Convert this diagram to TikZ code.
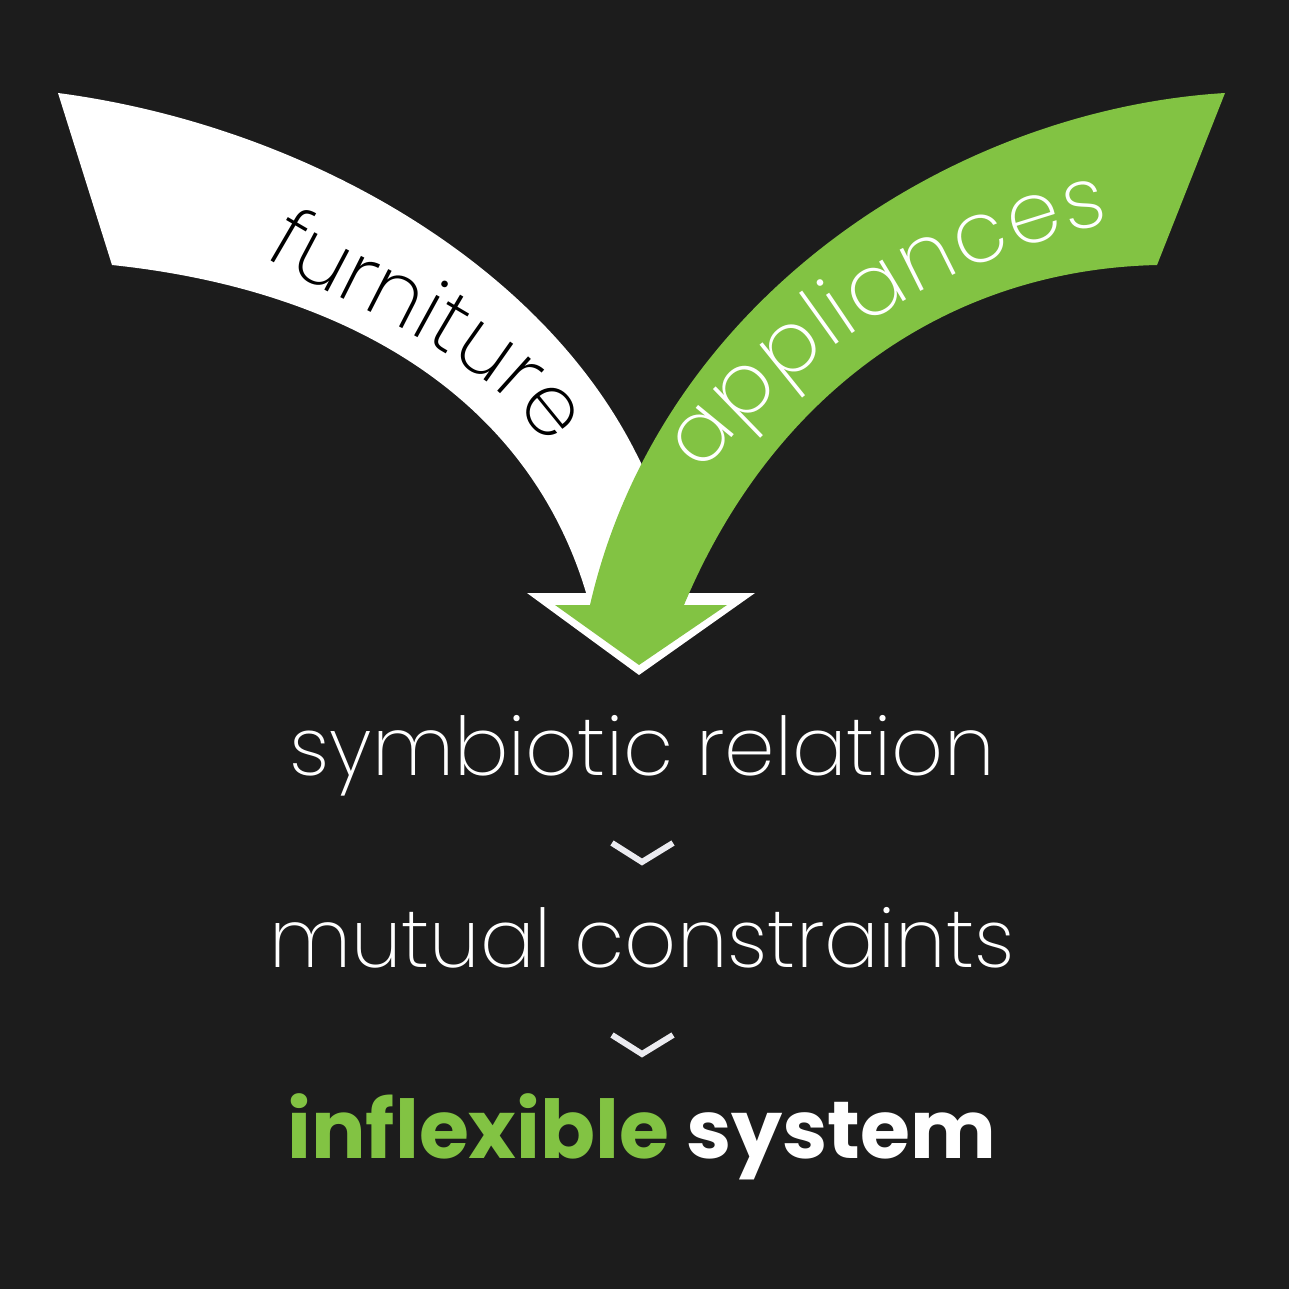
\documentclass[tikz,border=0pt]{standalone}
\usepackage{fontspec}
\setmainfont{Poppins}[UprightFont=* ExtraLight, BoldFont=* Bold]
\usetikzlibrary{decorations.text}
\definecolor{bgdark}{RGB}{28,28,28}
\definecolor{leafgreen}{RGB}{130,195,67}
\definecolor{chevgray}{RGB}{235,235,240}

\begin{document}
\begin{tikzpicture}[
    x=1pt, y=-1pt,
    stage/.style={font=\fontsize{81}{97}\selectfont, text=white, anchor=base, inner sep=0pt},
    chevron/.style={draw=chevgray, line width=6pt}
]
\fill[bgdark] (0,0) rectangle (1289,1289);
\useasboundingbox (0,0) rectangle (1289,1289);

% furniture band
\fill[white] (58,93) .. controls (300,125) and (540,260) .. (637,455) -- (652,485) -- (630,600)
    -- (587,596) .. controls (530,400) and (350,290) .. (112,265) -- cycle;
\fill[white] (527,593) -- (755,593) -- (639,675) -- cycle;
% appliances band
\fill[leafgreen] (1225,93) .. controls (950,110) and (660,300) .. (590,605) -- (684,605)
    .. controls (770,400) and (940,270) .. (1157,265) -- cycle;
\fill[leafgreen] (555,605) -- (727,605) -- (639,665) -- cycle;

\path[decorate, decoration={text along path, text align=fit to path,
    text={|\fontsize{85}{100}\selectfont\color{black}|furniture}}]
    (264,256) .. controls (362,316) and (480,350) .. (543,440);
\path[decorate, decoration={text along path, text align=fit to path,
    text={|\fontsize{85}{100}\selectfont\color{white}|appliances}}]
    (703,474) .. controls (775,372) and (935,257) .. (1110,224);

\node[stage] (sym) at (642,775) {symbiotic relation};
\node[stage] (mut) at (642,967) {mutual constraints};
\node[stage, font=\fontsize{81}{97}\selectfont\bfseries] (inf) at (642,1158)
    {\textcolor{leafgreen}{inflexible} system};

\draw[chevron] (612,843) -- (642,862) -- (673,843);
\draw[chevron] (612,1035) -- (642,1054) -- (673,1035);
\end{tikzpicture}
\end{document}
